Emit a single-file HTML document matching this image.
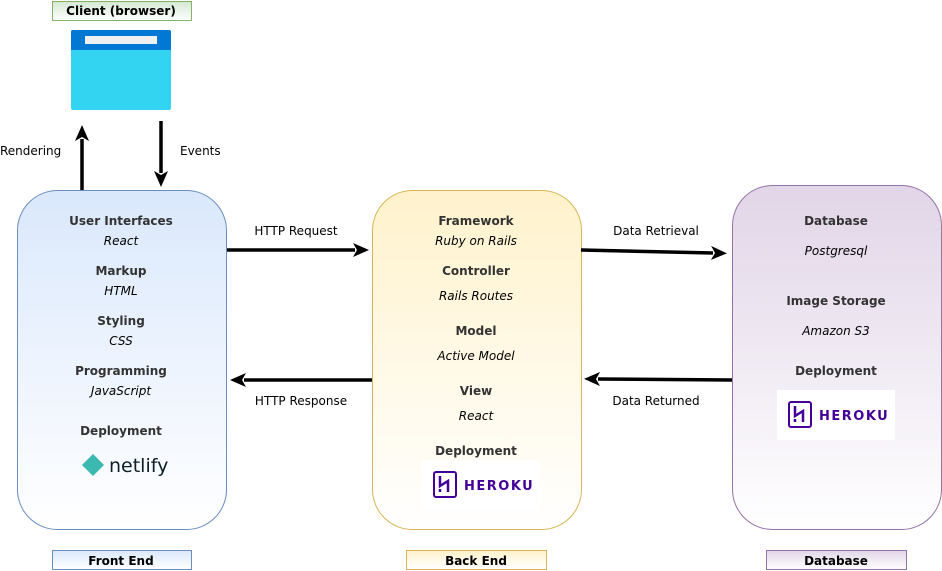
<!DOCTYPE html>
<html><head><meta charset="utf-8"><style>
body{margin:0;background:#fff}
svg{display:block;font-family:"DejaVu Sans","Liberation Sans",sans-serif}
.b{font-weight:bold;font-size:12px;fill:#333}
.i{font-style:italic;font-size:12px;fill:#000}
.t{font-size:12px;fill:#000}
.l{font-weight:bold;font-size:12px;fill:#000}
</style></head><body>
<svg width="942" height="571" viewBox="0 0 942 571">
<defs>
<linearGradient id="gb" x1="0" y1="0" x2="0" y2="1"><stop offset="0" stop-color="#dae8fc"/><stop offset="1" stop-color="#fff"/></linearGradient>
<linearGradient id="gy" x1="0" y1="0" x2="0" y2="1"><stop offset="0" stop-color="#fff2cc"/><stop offset="1" stop-color="#fff"/></linearGradient>
<linearGradient id="gp" x1="0" y1="0" x2="0" y2="1"><stop offset="0" stop-color="#e1d5e7"/><stop offset="1" stop-color="#fff"/></linearGradient>
<linearGradient id="gg" x1="0" y1="0" x2="0" y2="1"><stop offset="0" stop-color="#d5e8d4"/><stop offset="1" stop-color="#fff"/></linearGradient>
<marker id="ah" markerWidth="16" markerHeight="14" refX="2" refY="7" orient="auto" markerUnits="userSpaceOnUse"><path d="M0,0 L16,7 L0,14 L4,7 Z" fill="#000"/></marker>
</defs>
<rect x="52.5" y="1.5" width="139" height="19" fill="url(#gg)" stroke="#82b366"/>
<text x="121" y="15" class="l" text-anchor="middle">Client (browser)</text>
<rect x="71" y="30" width="100" height="80" rx="2" fill="#32d4f2"/>
<path d="M71,50 V32 a2,2 0 0 1 2,-2 H169 a2,2 0 0 1 2,2 V50 Z" fill="#0078d4"/>
<rect x="85" y="36" width="72" height="8" fill="#f0f0f0"/>
<rect x="17.5" y="190.5" width="209" height="339" rx="40" fill="url(#gb)" stroke="#6c8ebf"/>
<rect x="372.5" y="190.5" width="209" height="339" rx="40" fill="url(#gy)" stroke="#d6b656"/>
<rect x="732.5" y="185.5" width="209" height="344" rx="40" fill="url(#gp)" stroke="#9673a6"/>
<rect x="52.5" y="550.5" width="139" height="19" fill="url(#gb)" stroke="#6c8ebf"/>
<text x="121" y="565" class="l" text-anchor="middle">Front End</text>
<rect x="406.5" y="550.5" width="140" height="19" fill="url(#gy)" stroke="#d6b656"/>
<text x="476" y="565" class="l" text-anchor="middle">Back End</text>
<rect x="766.5" y="550.5" width="140" height="19" fill="url(#gp)" stroke="#9673a6"/>
<text x="836" y="565" class="l" text-anchor="middle">Database</text>
<g stroke="#000" stroke-width="3.5" fill="none">
<line x1="82" y1="190" x2="82" y2="139" marker-end="url(#ah)"/>
<line x1="161" y1="121" x2="161" y2="173" marker-end="url(#ah)"/>
<line x1="227" y1="250" x2="355" y2="250" marker-end="url(#ah)"/>
<line x1="581" y1="250" x2="713" y2="253" marker-end="url(#ah)"/>
<line x1="372" y1="380" x2="244" y2="380" marker-end="url(#ah)"/>
<line x1="732" y1="380" x2="598" y2="379" marker-end="url(#ah)"/>
</g>
<text x="0" y="155" class="t">Rendering</text>
<text x="180" y="155" class="t">Events</text>
<text x="296" y="235" class="t" text-anchor="middle">HTTP Request</text>
<text x="656" y="235" class="t" text-anchor="middle">Data Retrieval</text>
<text x="301" y="405" class="t" text-anchor="middle">HTTP Response</text>
<text x="656" y="405" class="t" text-anchor="middle">Data Returned</text>
<g text-anchor="middle">
<text x="121" y="225" class="b">User Interfaces</text>
<text x="121" y="245" class="i">React</text>
<text x="121" y="275" class="b">Markup</text>
<text x="121" y="295" class="i">HTML</text>
<text x="121" y="325" class="b">Styling</text>
<text x="121" y="345" class="i">CSS</text>
<text x="121" y="375" class="b">Programming</text>
<text x="121" y="395" class="i">JavaScript</text>
<text x="121" y="435" class="b">Deployment</text>
<text x="476" y="225" class="b">Framework</text>
<text x="476" y="245" class="i">Ruby on Rails</text>
<text x="476" y="275" class="b">Controller</text>
<text x="476" y="300" class="i">Rails Routes</text>
<text x="476" y="335" class="b">Model</text>
<text x="476" y="360" class="i">Active Model</text>
<text x="476" y="395" class="b">View</text>
<text x="476" y="420" class="i">React</text>
<text x="476" y="455" class="b">Deployment</text>
<text x="836" y="225" class="b">Database</text>
<text x="836" y="255" class="i">Postgresql</text>
<text x="836" y="305" class="b">Image Storage</text>
<text x="836" y="335" class="i">Amazon S3</text>
<text x="836" y="375" class="b">Deployment</text>
</g>
<text x="109" y="472" style="font-size:19px;fill:#0e1e25">netlify</text>
<polygon points="93,454 104,465 93,476 82,465" fill="#3bb8b0"/>
<rect x="422" y="460" width="118" height="50" fill="#fff"/>
<rect x="434" y="472" width="22" height="25" rx="2" fill="none" stroke="#430098" stroke-width="2"/>
<path d="M440,476 V486 L448,481 V492 M440,489 V492" stroke="#430098" stroke-width="2.5" fill="none"/>
<text x="464" y="490" style="font-size:13px;font-weight:bold;fill:#430098;letter-spacing:1.5px">HEROKU</text>
<rect x="777" y="390" width="118" height="50" fill="#fff"/>
<rect x="789" y="402" width="22" height="25" rx="2" fill="none" stroke="#430098" stroke-width="2"/>
<path d="M795,406 V416 L803,411 V422 M795,419 V422" stroke="#430098" stroke-width="2.5" fill="none"/>
<text x="819" y="420" style="font-size:13px;font-weight:bold;fill:#430098;letter-spacing:1.5px">HEROKU</text>
</svg>
</body></html>
